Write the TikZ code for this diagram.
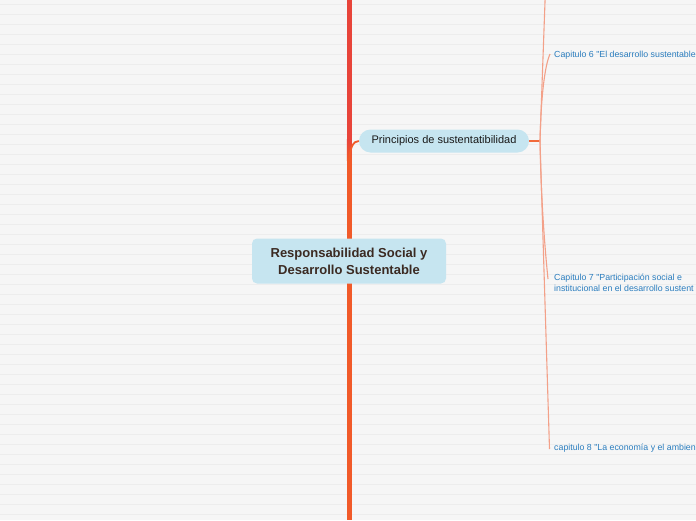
\documentclass[tikz,border=0pt]{standalone}
\usepackage{fontspec}
\setmainfont{Liberation Sans}[Ligatures=TeXOff]
\definecolor{bg}{HTML}{F6F6F6}
\definecolor{rulecol}{HTML}{EDEDED}
\definecolor{redline}{HTML}{E8443A}
\definecolor{orangeline}{HTML}{F15A29}
\definecolor{nodeblue}{HTML}{C6E5F0}
\definecolor{darkbrown}{HTML}{3B2A22}
\definecolor{textblue}{HTML}{2A7DBE}
\definecolor{branchcol}{HTML}{F3A088}
\definecolor{conncol}{HTML}{F26A3A}
\tikzset{
  rootbox/.style={fill=nodeblue, rounded corners=5pt, minimum width=194pt, minimum height=45pt,
    inner sep=0pt, align=center, text=darkbrown, font=\bfseries\fontsize{13}{17}\selectfont},
  pillbox/.style={fill=nodeblue, rounded corners=11.5pt, minimum width=170pt, minimum height=23pt,
    inner sep=0pt, text=black!90, font=\fontsize{11}{13}\selectfont},
  captext/.style={anchor=west, inner sep=0pt, align=left, text=textblue, font=\fontsize{8.8}{11}\selectfont},
  branchline/.style={branchcol, line width=1.1pt},
}
\begin{document}
\begin{tikzpicture}[x=1pt,y=-1pt]
\useasboundingbox (0,0) rectangle (696,520);
\clip (0,0) rectangle (696,520);
\fill[bg] (0,0) rectangle (696,520);
\foreach \yy in {4.5,14.5,...,514.5} \draw[rulecol, line width=1pt] (0,\yy) -- (696,\yy);

% main vertical line
\coordinate (top) at (349.3,0);
\coordinate (mida) at (349.3,140);
\coordinate (midb) at (349.3,160);
\coordinate (bottom) at (349.3,520);
\draw[redline, line width=5pt] (top) -- (mida);
\shade[top color=redline, bottom color=orangeline] (346.8,139.5) rectangle (351.8,160.5);
\draw[orangeline, line width=5pt] (midb) -- (bottom);

% nodes
\node[rootbox] (root) at (349,261) {Responsabilidad Social y\\ Desarrollo Sustentable};
\node[pillbox] (prin) at (444,141) {Principios de sustentatibilidad};

\coordinate (split) at (349.3,160);
\draw[orangeline, line width=1.8pt] (split) .. controls (350,148) and (353,141) .. (prin.west);

\coordinate (j) at (540,141);
\draw[conncol, line width=1.5pt] (prin.east) -- (j);

\node[captext] (c6) at (554,55.5) {Capitulo 6 "El desarrollo sustentable};
\node[captext] (c7) at (554,283) {Capitulo 7 "Participación social e\\institucional en el desarrollo sustent};
\node[captext] (c8) at (554,448.5) {capitulo 8 "La economía y el ambien};

\coordinate (c5end) at (546.5,-40);
\coordinate (c6end) at (550,54);
\coordinate (c7end) at (548,279);
\coordinate (c8end) at (549.5,449);

\draw[branchline] (j) -- (c5end);
\draw[branchline] (j) .. controls (541,95) and (545,65) .. (c6end);
\draw[branchline] (j) .. controls (541,200) and (545,250) .. (c7end);
\draw[branchline] (j) -- (c8end);
\end{tikzpicture}
\end{document}
